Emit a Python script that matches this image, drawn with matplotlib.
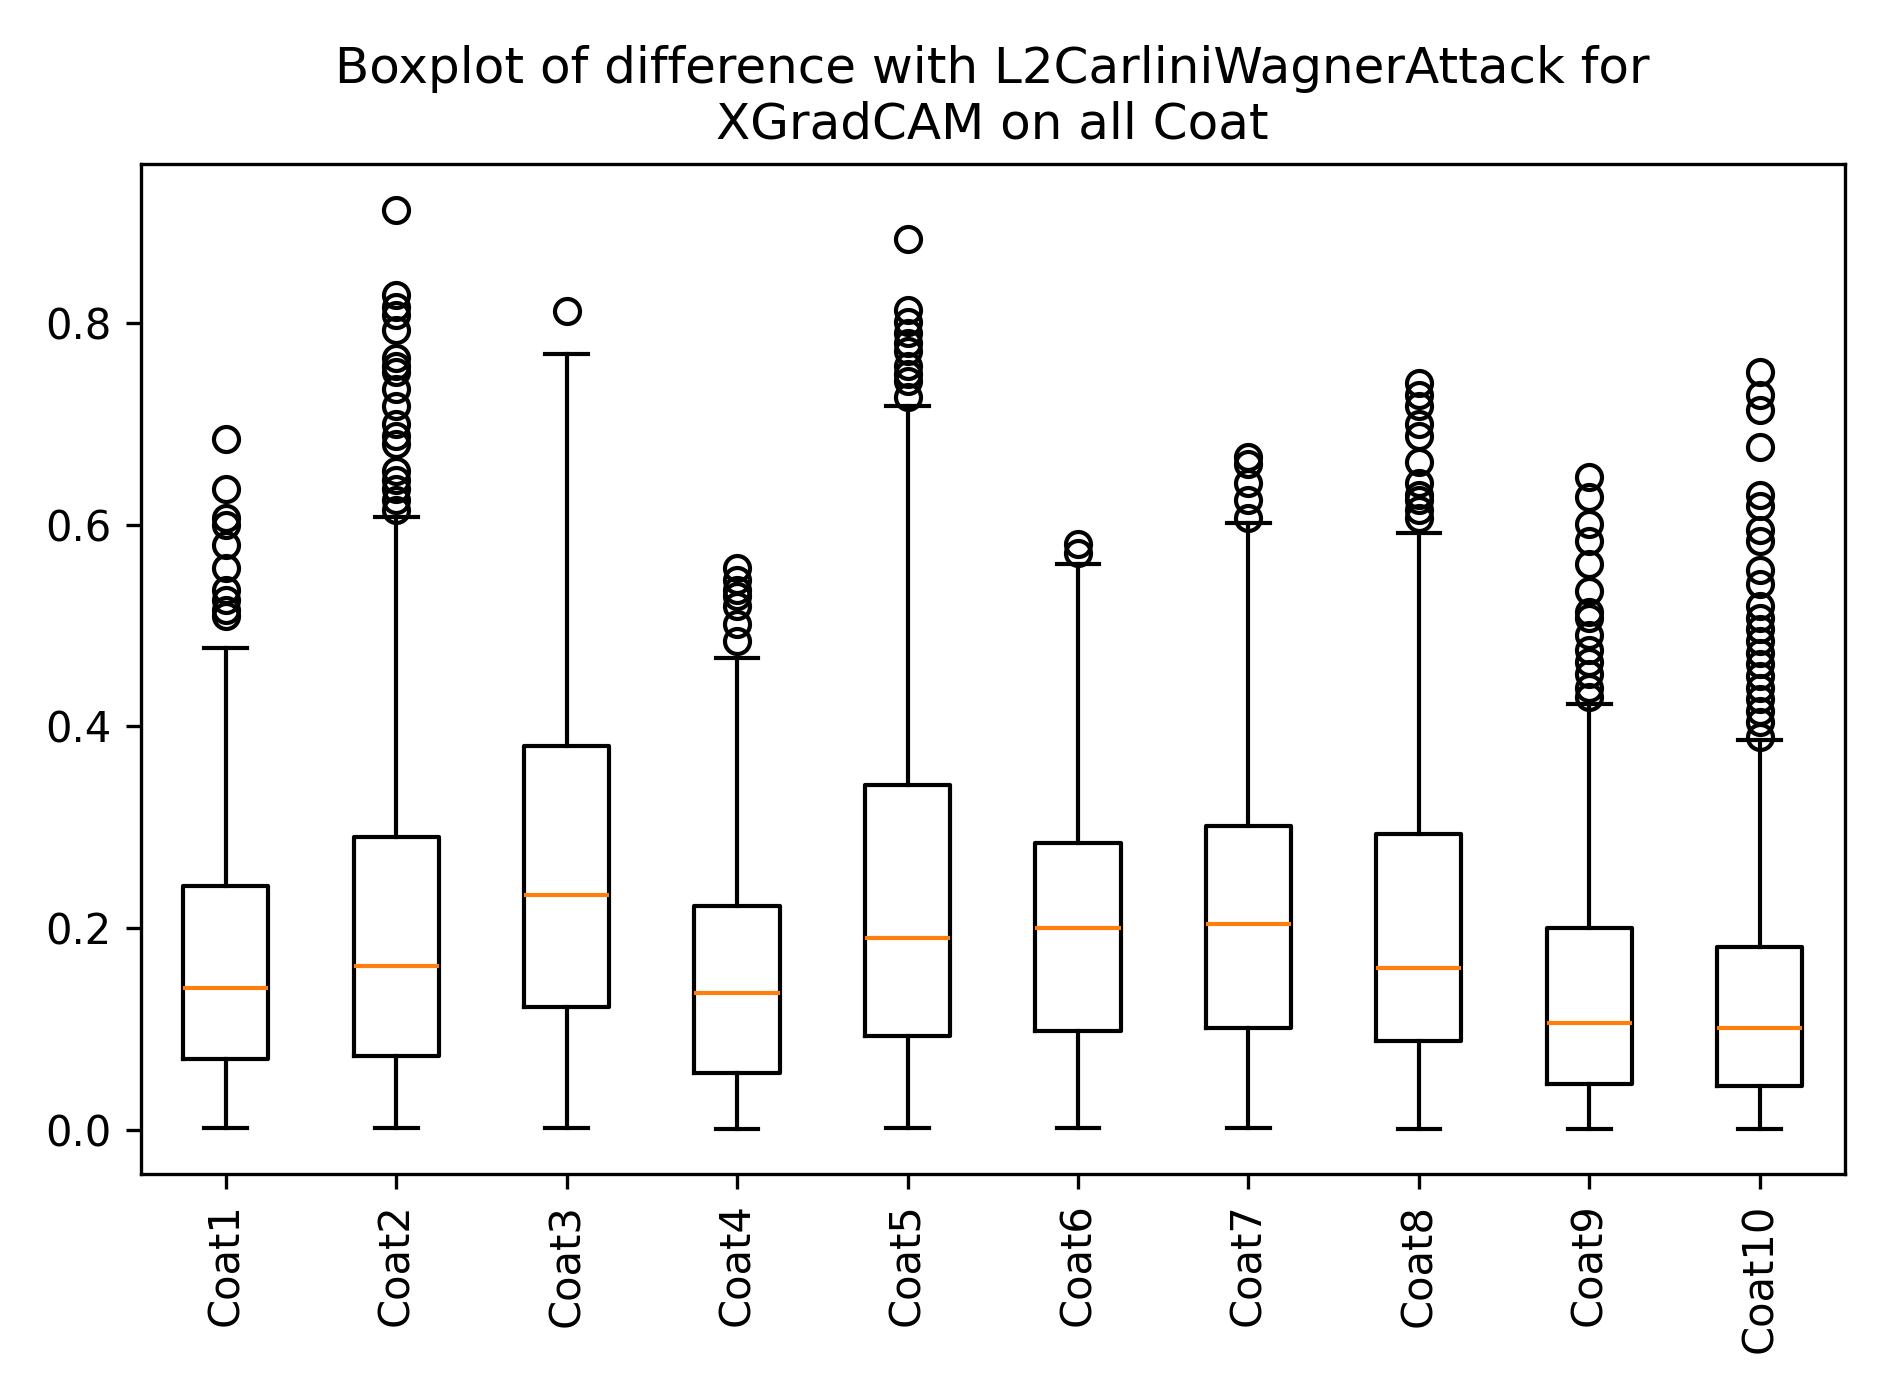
import matplotlib
matplotlib.use("Agg")
import matplotlib.pyplot as plt

labels = ["Coat1", "Coat2", "Coat3", "Coat4", "Coat5",
          "Coat6", "Coat7", "Coat8", "Coat9", "Coat10"]
whislo = [0.002, 0.002, 0.002, 0.001, 0.002, 0.002, 0.002, 0.001, 0.001, 0.001]
q1 = [0.070, 0.073, 0.122, 0.056, 0.093, 0.098, 0.101, 0.088, 0.045, 0.043]
med = [0.140, 0.162, 0.233, 0.135, 0.190, 0.200, 0.204, 0.160, 0.106, 0.101]
q3 = [0.242, 0.290, 0.381, 0.222, 0.342, 0.284, 0.301, 0.293, 0.200, 0.181]
whishi = [0.478, 0.608, 0.770, 0.468, 0.718, 0.561, 0.602, 0.592, 0.422, 0.387]
fliers = [
    [0.685, 0.636, 0.607, 0.600, 0.580, 0.557, 0.535, 0.526, 0.516, 0.510],
    [0.913, 0.828, 0.816, 0.808, 0.793, 0.766, 0.758, 0.752, 0.735, 0.718,
     0.700, 0.688, 0.680, 0.654, 0.645, 0.636, 0.625, 0.615],
    [0.812],
    [0.557, 0.545, 0.535, 0.529, 0.520, 0.502, 0.485],
    [0.884, 0.813, 0.801, 0.790, 0.781, 0.773, 0.758, 0.750, 0.743, 0.727],
    [0.581, 0.572],
    [0.667, 0.660, 0.642, 0.625, 0.607],
    [0.741, 0.729, 0.718, 0.700, 0.688, 0.662, 0.642, 0.630, 0.625, 0.615, 0.607],
    [0.648, 0.628, 0.601, 0.584, 0.561, 0.534, 0.514, 0.508, 0.491, 0.476,
     0.464, 0.452, 0.438, 0.429],
    [0.752, 0.729, 0.714, 0.677, 0.630, 0.619, 0.595, 0.584, 0.555, 0.541,
     0.520, 0.508, 0.497, 0.485, 0.473, 0.462, 0.450, 0.438, 0.427, 0.415,
     0.404, 0.390],
]

stats = []
for i in range(len(labels)):
    stats.append({"label": labels[i], "whislo": whislo[i], "q1": q1[i],
                  "med": med[i], "q3": q3[i], "whishi": whishi[i],
                  "fliers": fliers[i]})

fig, ax = plt.subplots(figsize=(6.3, 4.66), dpi=300)
ax.bxp(stats)
ax.set_title("Boxplot of difference with L2CarliniWagnerAttack for\nXGradCAM on all Coat")
plt.xticks(rotation=90)
plt.tight_layout()
plt.savefig("out.png")
